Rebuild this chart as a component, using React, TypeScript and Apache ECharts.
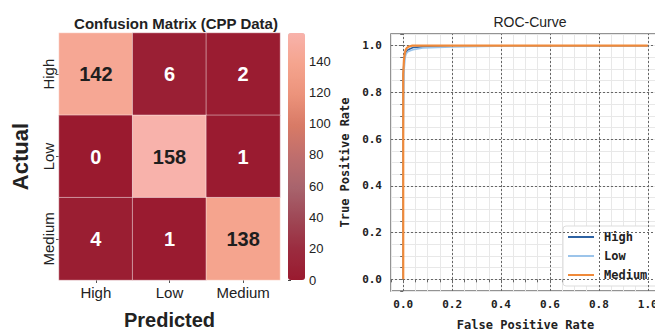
import React, { useEffect, useRef } from "react";
import * as echarts from "echarts";

// ---------- Confusion matrix data ----------
const predictedLabels = ["High", "Low", "Medium"];
const actualLabels = ["High", "Low", "Medium"];
// rows = actual, cols = predicted
const cmHigh = [142, 6, 2];
const cmLow = [0, 158, 1];
const cmMedium = [4, 1, 138];
const cmRows = [cmHigh, cmLow, cmMedium];
const cmMin = 0;
const cmMax = 158;
const cmColorStops = [
  "#9a1a2f",
  "#9b2c3f",
  "#9f4856",
  "#a8646d",
  "#bf6e6d",
  "#d87a66",
  "#ec937b",
  "#f5a48e",
  "#f8b2ab",
];

// ---------- ROC data ----------
const seriesNames = ["High", "Low", "Medium"];
const highFpr = [0, 0, 0, 0.003, 0.006, 0.01, 0.02, 0.04, 0.1, 0.25, 1.0];
const highTpr = [0, 0.62, 0.87, 0.93, 0.955, 0.97, 0.983, 0.992, 0.997, 1.0, 1.0];
const lowFpr = [0, 0, 0, 0.004, 0.008, 0.012, 0.02, 0.04, 0.08, 0.2, 0.55, 1.0];
const lowTpr = [0, 0.3, 0.6, 0.9, 0.95, 0.965, 0.975, 0.983, 0.99, 0.995, 1.0, 1.0];
const medFpr = [0, 0, 0.003, 0.006, 0.01, 0.015, 0.022, 0.035, 1.0];
const medTpr = [0, 0.88, 0.94, 0.965, 0.982, 0.991, 0.996, 1.0, 1.0];
const majorTicks = [0, 0.2, 0.4, 0.6, 0.8, 1.0];
const rocColors = ["#2d62a3", "#9cc4ea", "#f08a3a"];

const monoFont = "DejaVu Sans Mono";
const sansFont = "Liberation Sans";

function zip(a: number[], b: number[]) {
  return a.map((v, i) => [v, b[i]]);
}

export default function App() {
  const ref = useRef<HTMLDivElement>(null);

  useEffect(() => {
    if (!ref.current) return;
    const chart = echarts.init(ref.current, undefined, { renderer: "svg" });

    const heatData: any[] = [];
    cmRows.forEach((row, r) => {
      row.forEach((v, c) => {
        heatData.push({
          value: [c, r, v],
          label: { color: v > 80 ? "#1e1e1e" : "#ffffff" },
        });
      });
    });

    const rocData = [zip(highFpr, highTpr), zip(lowFpr, lowTpr), zip(medFpr, medTpr)];

    const tickLabel = (v: number) => {
      const k = Math.round(v * 100);
      if (k < 0 || k > 100 || k % 20 !== 0) return "";
      return (k / 100).toFixed(1);
    };

    const option: any = {
      animation: false,
      backgroundColor: "#ffffff",
      title: [
        {
          text: "Confusion Matrix (CPP Data)",
          left: 171,
          top: 11,
          textAlign: "center",
          textStyle: { fontFamily: sansFont, fontSize: 15, fontWeight: "bold", color: "#222" },
        },
        {
          text: "ROC-Curve",
          left: 525,
          top: 10,
          textAlign: "center",
          textStyle: { fontFamily: sansFont, fontSize: 14, fontWeight: "normal", color: "#222" },
        },
      ],
      grid: [
        { left: 59, top: 33, width: 221, height: 247, containLabel: false, outerBoundsMode: "none" },
        { left: 288, top: 33, width: 17, height: 247, containLabel: false, outerBoundsMode: "none" },
        {
          left: 391,
          top: 34,
          width: 269,
          height: 257,
          containLabel: false,
          outerBoundsMode: "none",
          show: true,
          borderColor: "#707070",
          borderWidth: 1.5,
          backgroundColor: "#ffffff",
        },
      ],
      xAxis: [
        {
          gridIndex: 0,
          type: "category",
          data: predictedLabels,
          name: "Predicted",
          nameLocation: "middle",
          nameGap: 30,
          nameTextStyle: { fontFamily: sansFont, fontSize: 20, fontWeight: "bold", color: "#222" },
          axisLine: { show: false },
          axisTick: { show: true, length: 3, alignWithLabel: true, lineStyle: { color: "#555" } },
          axisLabel: { fontFamily: sansFont, fontSize: 15, color: "#222", margin: 5 },
          splitLine: { show: false },
        },
        {
          gridIndex: 1,
          type: "value",
          show: false,
          min: 0,
          max: 1,
        },
        {
          gridIndex: 2,
          type: "value",
          min: -0.05,
          max: 1.05,
          interval: 0.05,
          name: "False Positive Rate",
          nameLocation: "middle",
          nameGap: 28,
          nameTextStyle: { fontFamily: monoFont, fontSize: 12, fontWeight: "bold", color: "#222" },
          axisLine: { show: false },
          axisTick: { show: true, length: 3, lineStyle: { color: "#666" } },
          axisLabel: {
            fontFamily: monoFont,
            fontSize: 11,
            fontWeight: "bold",
            color: "#222",
            margin: 8,
            formatter: tickLabel,
            showMinLabel: true,
            showMaxLabel: true,
            hideOverlap: false,
          },
          splitLine: { show: true, lineStyle: { color: "#e8e8e8", width: 1 } },
        },
      ],
      yAxis: [
        {
          gridIndex: 0,
          type: "category",
          data: actualLabels,
          inverse: true,
          name: "Actual",
          nameLocation: "middle",
          nameGap: 28,
          nameTextStyle: { fontFamily: sansFont, fontSize: 22, fontWeight: "bold", color: "#222" },
          axisLine: { show: false },
          axisTick: { show: true, length: 3, alignWithLabel: true, lineStyle: { color: "#555" } },
          axisLabel: { fontFamily: sansFont, fontSize: 15, color: "#222", rotate: 90, margin: 3 },
          splitLine: { show: false },
        },
        {
          gridIndex: 1,
          type: "value",
          position: "right",
          min: cmMin,
          max: cmMax,
          interval: 20,
          axisLine: { show: false },
          axisTick: { show: true, length: 3, lineStyle: { color: "#444" } },
          axisLabel: { fontFamily: sansFont, fontSize: 13, color: "#222", margin: 4, showMaxLabel: false },
          splitLine: { show: false },
        },
        {
          gridIndex: 2,
          type: "value",
          min: -0.05,
          max: 1.05,
          interval: 0.05,
          name: "True Positive Rate",
          nameLocation: "middle",
          nameGap: 40,
          nameTextStyle: { fontFamily: monoFont, fontSize: 12, fontWeight: "bold", color: "#222" },
          axisLine: { show: false },
          axisTick: { show: true, length: 3, lineStyle: { color: "#666" } },
          axisLabel: {
            fontFamily: monoFont,
            fontSize: 11,
            fontWeight: "bold",
            color: "#222",
            margin: 9,
            formatter: tickLabel,
            hideOverlap: false,
          },
          splitLine: { show: true, lineStyle: { color: "#e8e8e8", width: 1 } },
        },
      ],
      visualMap: {
        type: "continuous",
        seriesIndex: 0,
        min: cmMin,
        max: cmMax,
        left: 288,
        top: 33,
        itemWidth: 17,
        itemHeight: 247,
        padding: 0,
        calculable: false,
        hoverLink: false,
        showLabel: false,
        inRange: { color: cmColorStops },
        textStyle: { color: "transparent" },
      },
      legend: {
        orient: "vertical",
        left: 563,
        top: 226,
        data: seriesNames.map((n) => ({ name: n, icon: "rect" })),
        itemWidth: 26,
        itemHeight: 2,
        itemGap: 7,
        padding: [5, 12, 5, 5],
        backgroundColor: "#ffffff",
        borderColor: "#dddddd",
        borderWidth: 1,
        borderRadius: 3,
        textStyle: {
          fontFamily: monoFont,
          fontSize: 12,
          fontWeight: "bold",
          color: "#222",
          padding: [0, 0, 0, 5],
        },
      },
      series: [
        {
          type: "heatmap",
          xAxisIndex: 0,
          yAxisIndex: 0,
          data: heatData,
          itemStyle: { borderColor: "rgba(255,255,255,0.45)", borderWidth: 1 },
          label: {
            show: true,
            fontFamily: sansFont,
            fontSize: 20,
            fontWeight: "bold",
            formatter: (p: any) => String(p.value[2]),
          },
          emphasis: { disabled: true },
        },
        {
          type: "line",
          name: "grid-major",
          xAxisIndex: 2,
          yAxisIndex: 2,
          data: [],
          z: 1,
          silent: true,
          markLine: {
            silent: true,
            symbol: "none",
            label: { show: false },
            lineStyle: { color: "#666", type: [2, 2], width: 1 },
            data: [
              ...majorTicks.map((t) => ({ xAxis: t })),
              ...majorTicks.map((t) => ({ yAxis: t })),
            ],
          },
        },
        ...seriesNames.map((n, i) => ({
          type: "line",
          name: n,
          xAxisIndex: 2,
          yAxisIndex: 2,
          data: rocData[i],
          showSymbol: false,
          symbol: "none",
          z: 3 + i,
          lineStyle: { color: rocColors[i], width: i === 2 ? 2.2 : 1.6 },
          itemStyle: { color: rocColors[i] },
          emphasis: { disabled: true },
        })),
      ],
    };

    chart.setOption(option);
    return () => chart.dispose();
  }, []);

  return (
    <div
      ref={ref}
      style={{ position: "absolute", left: 0, top: 0, width: 655, height: 331 }}
    />
  );
}
